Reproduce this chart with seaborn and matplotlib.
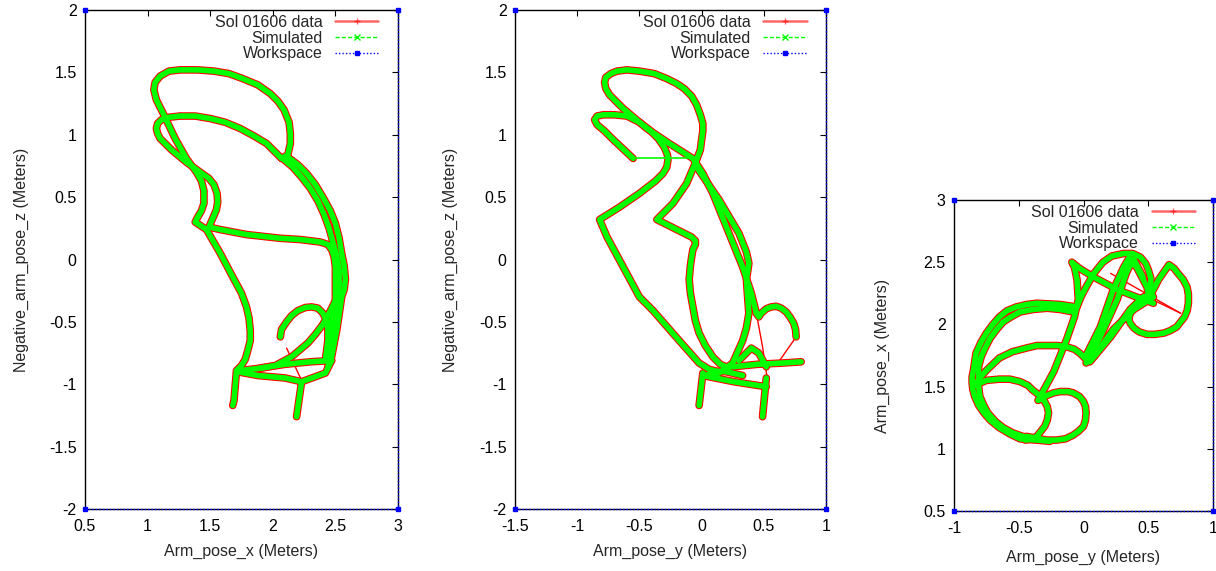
import numpy as np
import pandas as pd
import seaborn as sns
import matplotlib.pyplot as plt
from matplotlib.lines import Line2D

sns.set_style("white")
plt.rcParams['font.family'] = ['Liberation Sans', 'DejaVu Sans']
plt.rcParams['axes.unicode_minus'] = False

# ---------------- panel 1 : Arm_pose_x vs Negative_arm_pose_z ----------------
P1_OUTER = [(2.07, 0.81), (2.12, 0.84), (2.14, 0.93), (2.14, 1.01), (2.13, 1.10), (2.09, 1.20),
            (2.04, 1.27), (1.98, 1.33), (1.88, 1.40), (1.76, 1.45), (1.65, 1.49), (1.53, 1.51),
            (1.40, 1.52), (1.26, 1.52), (1.17, 1.51), (1.10, 1.47), (1.06, 1.42), (1.05, 1.36),
            (1.07, 1.28), (1.13, 1.16), (1.22, 0.97), (1.31, 0.81), (1.39, 0.70), (1.43, 0.63),
            (1.45, 0.55), (1.45, 0.45), (1.43, 0.39), (1.40, 0.34), (1.38, 0.30), (1.47, 0.24),
            (1.58, 0.05), (1.68, -0.14), (1.75, -0.27), (1.79, -0.38), (1.81, -0.47), (1.82, -0.57),
            (1.82, -0.65), (1.80, -0.73), (1.78, -0.80), (1.75, -0.85), (1.71, -0.89), (1.69, -1.13),
            (1.68, -1.17)]
P1_INNER = [(2.07, 0.81), (1.95, 0.93), (1.85, 0.99), (1.74, 1.05), (1.62, 1.10), (1.50, 1.13),
            (1.38, 1.15), (1.26, 1.15), (1.17, 1.14), (1.11, 1.12), (1.08, 1.09), (1.07, 1.05),
            (1.08, 1.01), (1.10, 0.97), (1.19, 0.88), (1.31, 0.78), (1.42, 0.70), (1.49, 0.65),
            (1.53, 0.60), (1.555, 0.53), (1.56, 0.46), (1.55, 0.40), (1.52, 0.33), (1.49, 0.26),
            (1.58, 0.24), (1.79, 0.20), (2.06, 0.17), (2.22, 0.16), (2.38, 0.14), (2.44, 0.12),
            (2.47, 0.08), (2.49, 0.02), (2.50, -0.06), (2.50, -0.14), (2.50, -0.33), (2.47, -0.50),
            (2.44, -0.70), (2.42, -0.81)]
P1_ARC_OUT = [(2.12, 0.82), (2.20, 0.76), (2.27, 0.69), (2.34, 0.60), (2.40, 0.50), (2.46, 0.39),
              (2.50, 0.29), (2.53, 0.17), (2.55, 0.05), (2.57, -0.05), (2.58, -0.16), (2.57, -0.24),
              (2.55, -0.30), (2.53, -0.44), (2.51, -0.57), (2.47, -0.78), (2.44, -0.86)]
P1_ARC_IN = [(2.09, 0.80), (2.16, 0.74), (2.23, 0.66), (2.30, 0.57), (2.36, 0.47), (2.41, 0.36),
             (2.45, 0.25), (2.48, 0.14), (2.51, 0.03), (2.53, -0.09), (2.53, -0.20), (2.52, -0.30),
             (2.51, -0.40), (2.47, -0.62), (2.43, -0.80)]
P1_LOOP = [(2.06, -0.62), (2.07, -0.56), (2.11, -0.50), (2.15, -0.45), (2.20, -0.41), (2.26, -0.385),
           (2.31, -0.38), (2.36, -0.39), (2.40, -0.43), (2.43, -0.49), (2.44, -0.57), (2.44, -0.65),
           (2.42, -0.81)]
P1_DIAG = [(2.50, -0.33), (2.45, -0.43), (2.40, -0.52), (2.34, -0.60), (2.28, -0.67), (2.15, -0.78),
           (2.02, -0.85), (1.91, -0.87), (1.74, -0.89)]
P1_BAND_UP = [(1.90, -0.87), (2.10, -0.84), (2.30, -0.82), (2.47, -0.81)]
P1_BAND_LOW = [(1.72, -0.90), (1.88, -0.93), (2.10, -0.95), (2.23, -0.98), (2.42, -0.91), (2.47, -0.81)]
P1_LEG = [(2.23, -0.98), (2.19, -1.26)]
P1_RED_CROSS = [(2.11, -0.71), (2.23, -0.97)]

# ---------------- panel 2 : Arm_pose_y vs Negative_arm_pose_z ----------------
P2_OUTER = [(0.22, -0.87), (0.15, -0.84), (0.09, -0.78), (0.03, -0.69), (-0.02, -0.59), (-0.05, -0.49),
            (-0.07, -0.38), (-0.09, -0.27), (-0.10, -0.16), (-0.09, -0.05), (-0.08, 0.02), (-0.07, 0.08),
            (-0.05, 0.12), (-0.05, 0.15), (-0.08, 0.18), (-0.20, 0.24), (-0.36, 0.32), (-0.23, 0.45),
            (-0.12, 0.61), (-0.04, 0.80), (-0.01, 0.88), (0.00, 0.96), (0.01, 1.03), (0.01, 1.09),
            (-0.01, 1.16), (-0.04, 1.24), (-0.08, 1.31), (-0.14, 1.37), (-0.20, 1.41), (-0.28, 1.45),
            (-0.38, 1.49), (-0.50, 1.51), (-0.60, 1.52), (-0.68, 1.51), (-0.73, 1.49), (-0.77, 1.46),
            (-0.78, 1.42), (-0.77, 1.37), (-0.74, 1.32), (-0.69, 1.27), (-0.63, 1.21), (-0.44, 1.05),
            (-0.26, 0.93), (-0.07, 0.81), (0.01, 0.69), (0.09, 0.53), (0.20, 0.26), (0.33, -0.06),
            (0.40, -0.27), (0.44, -0.43)]
P2_INNER = [(-0.55, 0.81), (-0.71, 0.96), (-0.78, 1.03), (-0.84, 1.08), (-0.86, 1.12), (-0.84, 1.15),
            (-0.79, 1.16), (-0.70, 1.16), (-0.60, 1.15), (-0.50, 1.10), (-0.42, 1.04), (-0.35, 0.97),
            (-0.30, 0.90), (-0.275, 0.84), (-0.27, 0.80), (-0.28, 0.74), (-0.31, 0.69), (-0.37, 0.63),
            (-0.50, 0.53), (-0.66, 0.42), (-0.82, 0.32), (-0.76, 0.18), (-0.63, -0.06), (-0.50, -0.30),
            (-0.39, -0.41), (-0.18, -0.65), (-0.10, -0.74), (-0.02, -0.83), (0.06, -0.88), (0.12, -0.895),
            (0.20, -0.90), (0.33, -0.93)]
P2_THICK = [(-0.04, 0.74), (0.14, 0.48), (0.30, 0.21), (0.36, 0.06), (0.38, -0.03), (0.37, -0.10),
            (0.36, -0.16), (0.37, -0.30), (0.38, -0.43), (0.36, -0.55), (0.33, -0.65), (0.25, -0.83),
            (0.14, -0.91), (0.01, -0.93)]
P2_LOOP = [(0.44, -0.43), (0.46, -0.46), (0.48, -0.43), (0.52, -0.395), (0.56, -0.38), (0.60, -0.375),
           (0.64, -0.39), (0.68, -0.42), (0.71, -0.46), (0.74, -0.51), (0.755, -0.56), (0.76, -0.62)]
P2_BAND = [(0.25, -0.86), (0.45, -0.84), (0.65, -0.83), (0.80, -0.82)]
P2_TRI = [(0.30, -0.81), (0.40, -0.71), (0.46, -0.75), (0.52, -0.86)]
P2_LOW = [(0.01, -0.93), (0.26, -0.98), (0.52, -1.02)]
P2_LEG_L = [(0.01, -0.91), (-0.02, -1.17)]
P2_LEG_R = [(0.52, -0.95), (0.49, -1.26)]
P2_RED_LINE = [(0.44, -0.43), (0.49, -0.70), (0.53, -0.97)]
P2_RED_TAIL = [(0.76, -0.62), (0.62, -0.82)]
P2_GREEN_JUMP = [(-0.55, 0.81), (-0.07, 0.81)]

# ---------------- panel 3 : Arm_pose_y vs Arm_pose_x ----------------
P3_ARC_OUT = [(-0.26, 1.06), (-0.31, 1.065), (-0.36, 1.07), (-0.43, 1.075), (-0.49, 1.08), (-0.57, 1.12),
              (-0.65, 1.17), (-0.72, 1.23), (-0.77, 1.29), (-0.81, 1.35), (-0.84, 1.42), (-0.855, 1.48),
              (-0.86, 1.53), (-0.86, 1.58), (-0.85, 1.63), (-0.84, 1.70), (-0.83, 1.77), (-0.79, 1.86),
              (-0.75, 1.93), (-0.70, 2.00), (-0.65, 2.06), (-0.59, 2.11), (-0.52, 2.14), (-0.44, 2.16),
              (-0.36, 2.17), (-0.18, 2.16), (-0.05, 2.14), (-0.02, 2.22), (0.02, 2.30), (0.08, 2.41),
              (0.15, 2.50), (0.22, 2.55), (0.31, 2.57), (0.38, 2.57), (0.44, 2.54), (0.48, 2.49),
              (0.50, 2.44), (0.52, 2.37), (0.52, 2.30), (0.51, 2.20)]
P3_ARC_IN = [(-0.08, 2.10), (-0.18, 2.12), (-0.28, 2.13), (-0.39, 2.12), (-0.49, 2.10), (-0.56, 2.06),
             (-0.62, 2.02), (-0.67, 1.96), (-0.72, 1.89), (-0.76, 1.81), (-0.79, 1.74), (-0.81, 1.66),
             (-0.81, 1.58), (-0.81, 1.50), (-0.80, 1.42), (-0.77, 1.35), (-0.74, 1.29), (-0.68, 1.22),
             (-0.62, 1.17), (-0.55, 1.13), (-0.47, 1.10), (-0.36, 1.08)]
P3_LOOP_L = [(-0.84, 1.51), (-0.75, 1.55), (-0.65, 1.56), (-0.57, 1.56), (-0.49, 1.54), (-0.43, 1.51),
             (-0.39, 1.47), (-0.34, 1.43), (-0.30, 1.38), (-0.28, 1.34), (-0.27, 1.29), (-0.28, 1.23),
             (-0.30, 1.18), (-0.33, 1.14), (-0.36, 1.10), (-0.40, 1.08), (-0.45, 1.07)]
P3_LOOP_R = [(-0.35, 1.39), (-0.28, 1.43), (-0.23, 1.45), (-0.18, 1.46), (-0.12, 1.46), (-0.08, 1.45),
             (-0.03, 1.42), (0.00, 1.38), (0.015, 1.34), (0.02, 1.29), (0.015, 1.23), (0.00, 1.18),
             (-0.04, 1.14), (-0.08, 1.11), (-0.14, 1.08), (-0.21, 1.07), (-0.28, 1.07), (-0.34, 1.08),
             (-0.44, 1.10)]
P3_SPIKE = [(-0.35, 1.39), (-0.23, 1.62), (-0.13, 1.88), (-0.07, 2.06), (-0.04, 2.20), (-0.05, 2.36),
            (-0.07, 2.46), (-0.09, 2.50), (-0.03, 2.45), (0.08, 2.38), (0.26, 2.28), (0.41, 2.22),
            (0.54, 2.17)]
P3_ARC_MID = [(-0.84, 1.51), (-0.80, 1.57), (-0.75, 1.63), (-0.70, 1.68), (-0.65, 1.73), (-0.55, 1.78),
              (-0.44, 1.81), (-0.36, 1.83), (-0.28, 1.83), (-0.20, 1.83), (-0.13, 1.82), (-0.07, 1.80),
              (-0.03, 1.77), (0.04, 1.70)]
P3_STRAND_A = [(0.02, 1.69), (0.13, 1.90), (0.26, 2.20), (0.33, 2.41), (0.37, 2.50), (0.41, 2.46),
               (0.49, 2.30), (0.51, 2.20)]
P3_STRAND_B = [(0.05, 1.70), (0.21, 1.90), (0.36, 2.12), (0.46, 2.22), (0.53, 2.24)]
P3_STRAND_C = [(0.01, 1.73), (0.13, 1.98), (0.23, 2.28), (0.31, 2.46), (0.35, 2.53), (0.39, 2.52),
               (0.46, 2.38)]
P3_STRAND_D = [(0.08, 1.74), (0.23, 1.96), (0.39, 2.12), (0.54, 2.22)]
P3_LOOP_RR = [(0.51, 2.22), (0.55, 2.30), (0.58, 2.36), (0.62, 2.42), (0.66, 2.48), (0.70, 2.45),
              (0.73, 2.41), (0.77, 2.36), (0.80, 2.30), (0.81, 2.24), (0.81, 2.17), (0.80, 2.11),
              (0.78, 2.06), (0.75, 2.02), (0.72, 1.98), (0.67, 1.95), (0.62, 1.93), (0.55, 1.92),
              (0.49, 1.92), (0.43, 1.94), (0.39, 1.97), (0.36, 2.01), (0.35, 2.04), (0.36, 2.09)]
P3_RED_1 = [(0.51, 2.21), (0.75, 2.09)]
P3_RED_2 = [(0.21, 2.41), (0.75, 2.09)]
P3_RED_3 = [(-0.57, 2.10), (-0.08, 2.12)]

# workspace box corners (drawn on the frame)
WS1 = [(0.5, -2), (3, -2), (3, 2), (0.5, 2)]
WS2 = [(-1.5, -2), (1, -2), (1, 2), (-1.5, 2)]
WS3 = [(-1, 0.5), (1, 0.5), (1, 3), (-1, 3)]

LABELS = ['Sol 01606 data', 'Simulated', 'Workspace']


def to_df(segs):
    rows = []
    for i, seg in enumerate(segs):
        for h, v in seg:
            rows.append((i, h, v))
    return pd.DataFrame(rows, columns=['seg', 'h', 'v'])


def draw(ax, segs, color, lw, z=2, **kw):
    if not segs:
        return
    sns.lineplot(data=to_df(segs), x='h', y='v', units='seg', estimator=None, sort=False,
                 color=color, lw=lw, ax=ax, legend=False, zorder=z, **kw)


panels = [
    dict(rect=[85/1216, 62/571, 313/1216, 499/571],
         both=[P1_OUTER, P1_INNER, P1_ARC_OUT, P1_ARC_IN, P1_LOOP, P1_DIAG, P1_BAND_UP, P1_BAND_LOW, P1_LEG],
         red=[P1_RED_CROSS], green=[], ws=WS1,
         xlim=(0.5, 3), ylim=(-2, 2), xticks=[0.5, 1, 1.5, 2, 2.5, 3],
         yticks=[-2, -1.5, -1, -0.5, 0, 0.5, 1, 1.5, 2],
         xlabel='Arm_pose_x (Meters)', ylabel='Negative_arm_pose_z (Meters)',
         ylab_x=-0.180, xpad=7, leg_x=0.953),
    dict(rect=[515/1216, 62/571, 311/1216, 499/571],
         both=[P2_OUTER, P2_INNER, P2_THICK, P2_LOOP, P2_BAND, P2_TRI, P2_LOW, P2_LEG_L, P2_LEG_R],
         red=[P2_RED_LINE, P2_RED_TAIL], green=[P2_GREEN_JUMP], ws=WS2,
         xlim=(-1.5, 1), ylim=(-2, 2), xticks=[-1.5, -1, -0.5, 0, 0.5, 1],
         yticks=[-2, -1.5, -1, -0.5, 0, 0.5, 1, 1.5, 2],
         xlabel='Arm_pose_y (Meters)', ylabel='Negative_arm_pose_z (Meters)',
         ylab_x=-0.182, xpad=7, leg_x=0.953),
    dict(rect=[954/1216, 60/571, 259/1216, 311/571],
         both=[P3_ARC_OUT, P3_ARC_IN, P3_LOOP_L, P3_LOOP_R, P3_SPIKE, P3_ARC_MID, P3_STRAND_A,
               P3_STRAND_B, P3_STRAND_C, P3_STRAND_D, P3_LOOP_RR],
         red=[P3_RED_1, P3_RED_2, P3_RED_3], green=[], ws=WS3,
         xlim=(-1, 1), ylim=(0.5, 3), xticks=[-1, -0.5, 0, 0.5, 1],
         yticks=[0.5, 1, 1.5, 2, 2.5, 3],
         xlabel='Arm_pose_y (Meters)', ylabel='Arm_pose_x (Meters)',
         ylab_x=-0.249, xpad=10, leg_x=0.948),
]

fig = plt.figure(figsize=(12.16, 5.71), dpi=100)

handles = [
    Line2D([], [], color='#ff0000', lw=1.8, alpha=0.6, marker='+', markersize=5, markeredgecolor='#ff0000'),
    Line2D([], [], color='#00ff00', lw=1.0, ls=(0, (3, 1.5)), marker='x', markersize=4),
    Line2D([], [], color='#0000ff', lw=1.0, ls=(0, (1, 1.5)), marker='s', markersize=3),
]

round_kw = dict(solid_joinstyle='round', solid_capstyle='round')

for p in panels:
    ax = fig.add_axes(p['rect'])
    draw(ax, p['both'], '#ff0000', 5.5, **round_kw)
    draw(ax, p['red'], '#ff0000', 1.0)
    draw(ax, p['both'], '#00ff00', 4.0, z=3, **round_kw)
    draw(ax, p['green'], '#00ff00', 1.2, z=3)
    # workspace: dotted blue along bottom/right edge, markers at the corners
    ws = p['ws']
    draw(ax, [ws[:3]], '#0000ff', 1.0, z=4, ls=(0, (1, 1.5)), clip_on=False)
    ax.plot([c[0] for c in ws], [c[1] for c in ws], 's', color='#0000ff', ms=3,
            clip_on=False, zorder=5)

    ax.set_xlim(p['xlim'])
    ax.set_ylim(p['ylim'])
    ax.set_xticks(p['xticks'])
    ax.set_yticks(p['yticks'])
    ax.set_xticklabels(['%g' % t for t in p['xticks']])
    ax.set_yticklabels(['%g' % t for t in p['yticks']])
    ax.tick_params(direction='in', top=True, right=True, length=4, width=0.8,
                   labelsize=11.5, colors='black')
    ax.tick_params(axis='x', pad=7)
    ax.tick_params(axis='y', pad=6)
    for s in ax.spines.values():
        s.set_color('black')
        s.set_linewidth(1.0)
    ax.set_xlabel(p['xlabel'], fontsize=11.5, labelpad=p['xpad'])
    ax.set_ylabel(p['ylabel'], fontsize=11.5)
    ax.yaxis.set_label_coords(p['ylab_x'], 0.5)

    leg = ax.legend(handles, LABELS, loc='upper right', bbox_to_anchor=(p['leg_x'], 1.0),
                    frameon=False, markerfirst=False, fontsize=11.5, handlelength=2.7,
                    handletextpad=0.8, labelspacing=0.05, borderpad=0.2, borderaxespad=0.1,
                    numpoints=1)
    leg.set_zorder(10)

fig.savefig('out.png', dpi=100)
